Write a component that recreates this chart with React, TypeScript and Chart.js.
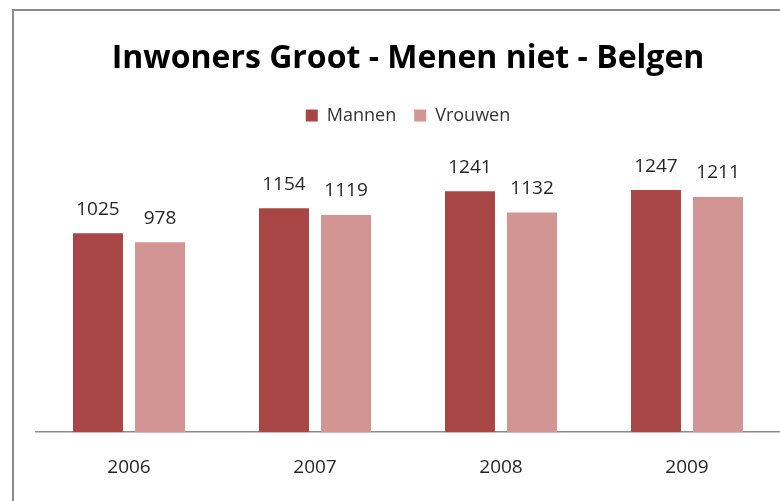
import React, { useEffect, useRef } from 'react';
import { Chart, registerables } from 'chart.js';

Chart.register(...registerables);

const categories = ['2006', '2007', '2008', '2009'];
const mannen = [1025, 1154, 1241, 1247];
const vrouwen = [978, 1119, 1132, 1211];
const seriesNames = ['Mannen', 'Vrouwen'];
const titleText = 'Inwoners Groot - Menen niet - Belgen';

const FONT = "'Open Sans', 'Noto Sans', sans-serif";

export default function App() {
  const ref = useRef<HTMLCanvasElement>(null);

  useEffect(() => {
    if (!ref.current) return;

    const framePlugin = {
      id: 'framePlugin',
      beforeInit(chart: any) {
        const legend = chart.legend;
        if (legend) {
          const origFit = legend.fit;
          legend.fit = function () {
            origFit.call(this);
            this.height += 26;
          };
        }
      },
      beforeDraw(chart: any) {
        const c = chart.ctx;
        c.save();
        c.fillStyle = '#ffffff';
        c.fillRect(0, 0, chart.width, chart.height);
        c.fillStyle = '#8c8c8c';
        c.fillRect(12, 9, chart.width - 12, 2);
        c.fillRect(12, 9, 2, chart.height - 9);
        c.restore();
      },
    };

    const valuePlugin = {
      id: 'valuePlugin',
      afterDatasetsDraw(chart: any) {
        const c = chart.ctx;
        c.save();
        c.font = `19px ${FONT}`;
        c.fillStyle = '#262626';
        c.textAlign = 'center';
        c.textBaseline = 'middle';
        chart.data.datasets.forEach((ds: any, i: number) => {
          const meta = chart.getDatasetMeta(i);
          meta.data.forEach((bar: any, j: number) => {
            c.fillText(String(ds.data[j]), bar.x, bar.y - 24);
          });
        });
        c.restore();
      },
    };

    const chart = new Chart(ref.current, {
      type: 'bar',
      data: {
        labels: categories,
        datasets: [
          {
            label: seriesNames[0],
            data: mannen,
            backgroundColor: '#a84646',
            barPercentage: 0.806,
            categoryPercentage: 0.667,
          },
          {
            label: seriesNames[1],
            data: vrouwen,
            backgroundColor: '#d39494',
            barPercentage: 0.806,
            categoryPercentage: 0.667,
          },
        ],
      },
      options: {
        animation: false,
        responsive: true,
        maintainAspectRatio: false,
        layout: { padding: { top: 0, left: 36, right: 0, bottom: -2 } },
        plugins: {
          title: {
            display: true,
            text: titleText,
            color: '#000000',
            font: { family: FONT, size: 32, weight: 'bold' },
            padding: { top: 40, bottom: 10 },
          },
          legend: {
            display: true,
            position: 'top',
            labels: {
              boxWidth: 12,
              boxHeight: 12,
              color: '#333333',
              font: { family: FONT, size: 18 },
              padding: 18,
            },
          },
          tooltip: { enabled: false },
        },
        scales: {
          x: {
            grid: { display: false, drawTicks: false },
            border: { display: true, color: '#8c8c8c', width: 1.5 },
            ticks: {
              color: '#262626',
              font: { family: FONT, size: 19 },
              padding: 24,
            },
          },
          y: {
            display: false,
            min: 0,
            max: 1400,
          },
        },
      },
      plugins: [framePlugin, valuePlugin],
    });

    return () => chart.destroy();
  }, []);

  return (
    <div style={{ position: 'fixed', left: 0, top: 0, width: 780, height: 501 }}>
      <canvas ref={ref} />
    </div>
  );
}
